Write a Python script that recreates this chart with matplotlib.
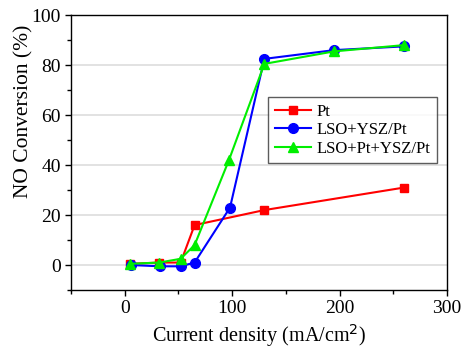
import matplotlib
matplotlib.use("Agg")
import matplotlib.pyplot as plt

# data
pt_x = [5, 32, 52, 65, 130, 260]
pt_y = [0.5, 1.0, 1.0, 16, 22, 31]
lso_x = [6, 33, 52, 65, 98, 130, 195, 260]
lso_y = [0.0, -0.5, -0.5, 1.0, 23, 82.5, 86, 87.5]
lsopt_x = [5, 32, 52, 65, 97, 130, 195, 260]
lsopt_y = [0.5, 1.0, 2.5, 8, 42, 80.5, 85.5, 88]

plt.rcParams['font.family'] = ['Liberation Serif', 'DejaVu Serif']

fig = plt.figure(figsize=(4.65, 3.52), dpi=100)
ax = fig.add_axes([0.153, 0.176, 0.808, 0.781])

for y in [0, 20, 40, 60, 80]:
    ax.axhline(y, color='#dddddd', lw=1.2, zorder=0)

ax.plot(pt_x, pt_y, '-s', color='#ff0000', lw=1.5, ms=6, label='Pt')
ax.plot(lso_x, lso_y, '-o', color='#0000ff', lw=1.5, ms=7, label='LSO+YSZ/Pt')
ax.plot(lsopt_x, lsopt_y, '-^', color='#00ee00', lw=1.5, ms=7.5, label='LSO+Pt+YSZ/Pt')

ax.set_xlim(-50, 300)
ax.set_ylim(-10, 100)
ax.set_xticks([0, 100, 200, 300])
ax.set_xticks([-50, 50, 150, 250], minor=True)
ax.set_yticks([0, 20, 40, 60, 80, 100])
ax.set_yticks([-10, 10, 30, 50, 70, 90], minor=True)
ax.tick_params(which='both', direction='out', labelsize=14, width=1)
ax.tick_params(which='major', length=4)
ax.tick_params(which='minor', length=3)
for s in ax.spines.values():
    s.set_linewidth(1.0)

ax.set_xlabel('Current density (mA/cm$^2$)', fontsize=14.5, labelpad=3)
ax.set_ylabel('NO Conversion (%)', fontsize=15.5)
ax.yaxis.set_label_coords(-0.10, 0.65)

leg = ax.legend(loc='upper right', bbox_to_anchor=(0.973, 0.702), borderaxespad=0,
                fontsize=12, frameon=True, fancybox=False, edgecolor='#333333',
                handlelength=2.2, borderpad=0.4, labelspacing=0.15, handletextpad=0.3)
leg.get_frame().set_linewidth(1.0)

fig.savefig('out.png', dpi=100)
